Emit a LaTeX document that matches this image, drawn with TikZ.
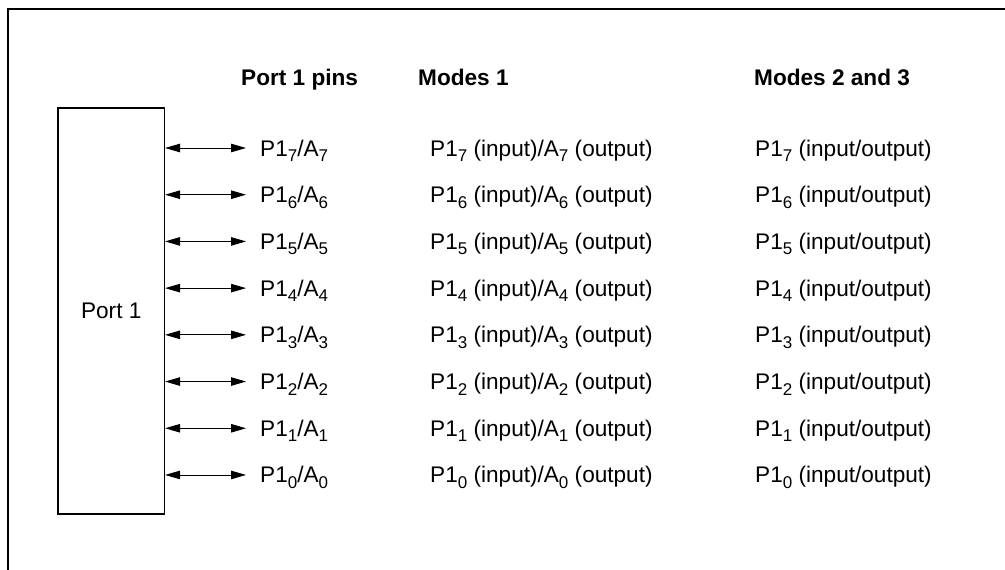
\documentclass[tikz,border=0pt]{standalone}
\usepackage{fontspec}
\setmainfont{Liberation Sans}
\usetikzlibrary{arrows.meta}
\newcommand\sbs[1]{\raisebox{-5.5pt}{\fontsize{17}{18}\selectfont #1}}
\begin{document}
\begin{tikzpicture}[x=1pt,y=-1pt,
  txt/.style={anchor=base west,inner sep=0pt,font=\fontsize{22.6}{26}\selectfont},
  hdr/.style={txt,font=\fontsize{22.6}{26}\selectfont\bfseries},
  biarrow/.style={line width=0.9pt,{Triangle[length=15pt,width=8.5pt]}-{Triangle[length=15pt,width=8.5pt]}}]
\useasboundingbox (0,0) rectangle (1005,570);
\draw[line width=1.2pt] (8,570) -- (8,9) -- (1005,9);
\node[draw,line width=1.2pt,minimum width=106.5pt,minimum height=406pt,inner sep=0pt,
  font=\fontsize{22.6}{26}\selectfont] (port) at (111.25,311) {Port 1};
\node[hdr] (h1) at (241,85) {Port 1 pins};
\node[hdr] (h2) at (418,85) {Modes 1};
\node[hdr] (h3) at (754,85) {Modes 2 and 3};
\foreach \i in {7,6,...,0}{
  \pgfmathsetmacro{\yy}{148+(7-\i)*46.71}
  \coordinate (e\i) at (246,\yy);
  \draw[biarrow] (port.east |- e\i) -- (e\i);
  \node[txt] (p\i) at (260,\yy+8) {P1\sbs{\i}/A\sbs{\i}};
  \node[txt] (m\i) at (430,\yy+8) {P1\sbs{\i} (input)/A\sbs{\i} (output)};
  \node[txt] (n\i) at (755,\yy+8) {P1\sbs{\i} (input/output)};
}
\end{tikzpicture}
\end{document}
